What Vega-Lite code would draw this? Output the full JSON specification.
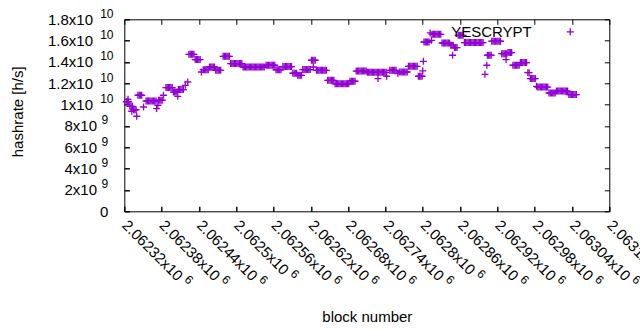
{
"$schema":"https://vega.github.io/schema/vega-lite/v6.json",
"width":485,"height":192,
"autosize":"none",
"padding":{"left":124.3,"top":19.3,"right":30.7,"bottom":118.7},
"background":"white",
"config":{"view":{"stroke":"black","strokeWidth":1},"font":"Liberation Sans",
"axis":{"grid":false,"domain":false,"tickColor":"black","tickSize":-5,"tickWidth":1,"labelColor":"black","labelFont":"Liberation Sans","labelFontSize":15,"titleFont":"Liberation Sans","titleFontSize":15,"titleFontWeight":"normal","titleColor":"black","labelOverlap":false,"labelFlush":false,"labelBound":false}},
"data":{"values":[
{"block":2062323,"hashrate":1.027e10},{"block":2062325,"hashrate":1.027e10},{"block":2062327,"hashrate":1.027e10},
{"block":2062326,"hashrate":1.05e10},
{"block":2062329,"hashrate":9.84e9},{"block":2062331,"hashrate":9.84e9},{"block":2062333,"hashrate":9.84e9},
{"block":2062335,"hashrate":9.52e9},{"block":2062337,"hashrate":9.52e9},{"block":2062339,"hashrate":9.52e9},
{"block":2062332,"hashrate":9.38e9},
{"block":2062340,"hashrate":8.91e9},
{"block":2062342,"hashrate":1.088e10},{"block":2062344,"hashrate":1.088e10},{"block":2062346,"hashrate":1.088e10},{"block":2062348,"hashrate":1.088e10},
{"block":2062351,"hashrate":9.78e9},
{"block":2062355,"hashrate":1.034e10},{"block":2062357,"hashrate":1.034e10},{"block":2062359,"hashrate":1.034e10},{"block":2062361,"hashrate":1.034e10},{"block":2062363,"hashrate":1.034e10},{"block":2062365,"hashrate":1.034e10},{"block":2062367,"hashrate":1.034e10},{"block":2062369,"hashrate":1.034e10},{"block":2062371,"hashrate":1.034e10},
{"block":2062372,"hashrate":9.63e9},
{"block":2062374,"hashrate":9.94e9},
{"block":2062375,"hashrate":1.041e10},{"block":2062377,"hashrate":1.041e10},{"block":2062379,"hashrate":1.041e10},{"block":2062381,"hashrate":1.041e10},
{"block":2062383,"hashrate":1.088e10},
{"block":2062387,"hashrate":1.16e10},{"block":2062389,"hashrate":1.16e10},{"block":2062391,"hashrate":1.16e10},{"block":2062393,"hashrate":1.16e10},{"block":2062395,"hashrate":1.16e10},{"block":2062397,"hashrate":1.16e10},
{"block":2062399,"hashrate":1.118e10},{"block":2062401,"hashrate":1.118e10},{"block":2062403,"hashrate":1.118e10},{"block":2062405,"hashrate":1.118e10},
{"block":2062406,"hashrate":1.078e10},
{"block":2062407,"hashrate":1.141e10},{"block":2062409,"hashrate":1.141e10},{"block":2062411,"hashrate":1.141e10},{"block":2062413,"hashrate":1.141e10},{"block":2062415,"hashrate":1.141e10},
{"block":2062418,"hashrate":1.181e10},
{"block":2062422,"hashrate":1.212e10},
{"block":2062424,"hashrate":1.472e10},{"block":2062426,"hashrate":1.472e10},{"block":2062428,"hashrate":1.472e10},{"block":2062430,"hashrate":1.472e10},{"block":2062432,"hashrate":1.472e10},
{"block":2062434,"hashrate":1.422e10},{"block":2062436,"hashrate":1.422e10},{"block":2062438,"hashrate":1.422e10},{"block":2062440,"hashrate":1.422e10},{"block":2062442,"hashrate":1.422e10},
{"block":2062444,"hashrate":1.306e10},
{"block":2062447,"hashrate":1.328e10},{"block":2062449,"hashrate":1.328e10},{"block":2062451,"hashrate":1.328e10},{"block":2062453,"hashrate":1.328e10},{"block":2062455,"hashrate":1.328e10},
{"block":2062457,"hashrate":1.353e10},{"block":2062459,"hashrate":1.353e10},{"block":2062461,"hashrate":1.353e10},{"block":2062463,"hashrate":1.353e10},{"block":2062465,"hashrate":1.353e10},
{"block":2062467,"hashrate":1.322e10},{"block":2062469,"hashrate":1.322e10},{"block":2062471,"hashrate":1.322e10},{"block":2062473,"hashrate":1.322e10},{"block":2062475,"hashrate":1.322e10},
{"block":2062479,"hashrate":1.453e10},{"block":2062481,"hashrate":1.453e10},{"block":2062483,"hashrate":1.453e10},{"block":2062485,"hashrate":1.453e10},{"block":2062487,"hashrate":1.453e10},{"block":2062489,"hashrate":1.453e10},
{"block":2062491,"hashrate":1.385e10},{"block":2062493,"hashrate":1.385e10},{"block":2062495,"hashrate":1.385e10},{"block":2062497,"hashrate":1.385e10},{"block":2062499,"hashrate":1.385e10},{"block":2062501,"hashrate":1.385e10},{"block":2062503,"hashrate":1.385e10},{"block":2062505,"hashrate":1.385e10},{"block":2062507,"hashrate":1.385e10},{"block":2062509,"hashrate":1.385e10},
{"block":2062511,"hashrate":1.353e10},{"block":2062513,"hashrate":1.353e10},{"block":2062515,"hashrate":1.353e10},{"block":2062517,"hashrate":1.353e10},{"block":2062519,"hashrate":1.353e10},{"block":2062521,"hashrate":1.353e10},{"block":2062523,"hashrate":1.353e10},{"block":2062525,"hashrate":1.353e10},{"block":2062527,"hashrate":1.353e10},{"block":2062529,"hashrate":1.353e10},{"block":2062531,"hashrate":1.353e10},{"block":2062533,"hashrate":1.353e10},{"block":2062535,"hashrate":1.353e10},{"block":2062537,"hashrate":1.353e10},{"block":2062539,"hashrate":1.353e10},{"block":2062541,"hashrate":1.353e10},{"block":2062543,"hashrate":1.353e10},{"block":2062545,"hashrate":1.353e10},
{"block":2062548,"hashrate":1.369e10},{"block":2062550,"hashrate":1.369e10},{"block":2062552,"hashrate":1.369e10},{"block":2062554,"hashrate":1.369e10},{"block":2062556,"hashrate":1.369e10},{"block":2062558,"hashrate":1.369e10},{"block":2062560,"hashrate":1.369e10},{"block":2062562,"hashrate":1.369e10},
{"block":2062564,"hashrate":1.327e10},{"block":2062566,"hashrate":1.327e10},{"block":2062568,"hashrate":1.327e10},{"block":2062570,"hashrate":1.327e10},{"block":2062572,"hashrate":1.327e10},
{"block":2062575,"hashrate":1.357e10},{"block":2062577,"hashrate":1.357e10},{"block":2062579,"hashrate":1.357e10},{"block":2062581,"hashrate":1.357e10},{"block":2062583,"hashrate":1.357e10},{"block":2062585,"hashrate":1.357e10},{"block":2062587,"hashrate":1.357e10},{"block":2062589,"hashrate":1.357e10},
{"block":2062591,"hashrate":1.294e10},{"block":2062593,"hashrate":1.294e10},{"block":2062595,"hashrate":1.294e10},{"block":2062597,"hashrate":1.294e10},
{"block":2062599,"hashrate":1.275e10},{"block":2062601,"hashrate":1.275e10},{"block":2062603,"hashrate":1.275e10},{"block":2062605,"hashrate":1.275e10},
{"block":2062607,"hashrate":1.329e10},{"block":2062609,"hashrate":1.329e10},{"block":2062611,"hashrate":1.329e10},{"block":2062613,"hashrate":1.329e10},{"block":2062615,"hashrate":1.329e10},{"block":2062617,"hashrate":1.329e10},{"block":2062619,"hashrate":1.329e10},
{"block":2062621,"hashrate":1.416e10},{"block":2062623,"hashrate":1.416e10},{"block":2062625,"hashrate":1.416e10},{"block":2062627,"hashrate":1.416e10},
{"block":2062624,"hashrate":1.353e10},
{"block":2062629,"hashrate":1.322e10},{"block":2062631,"hashrate":1.322e10},{"block":2062633,"hashrate":1.322e10},{"block":2062635,"hashrate":1.322e10},{"block":2062637,"hashrate":1.322e10},{"block":2062639,"hashrate":1.322e10},{"block":2062641,"hashrate":1.322e10},{"block":2062643,"hashrate":1.322e10},{"block":2062645,"hashrate":1.322e10},
{"block":2062647,"hashrate":1.228e10},{"block":2062649,"hashrate":1.228e10},{"block":2062651,"hashrate":1.228e10},{"block":2062653,"hashrate":1.228e10},{"block":2062655,"hashrate":1.228e10},{"block":2062657,"hashrate":1.228e10},
{"block":2062659,"hashrate":1.195e10},{"block":2062661,"hashrate":1.195e10},{"block":2062663,"hashrate":1.195e10},{"block":2062665,"hashrate":1.195e10},{"block":2062667,"hashrate":1.195e10},{"block":2062669,"hashrate":1.195e10},{"block":2062671,"hashrate":1.195e10},{"block":2062673,"hashrate":1.195e10},{"block":2062675,"hashrate":1.195e10},{"block":2062677,"hashrate":1.195e10},{"block":2062679,"hashrate":1.195e10},{"block":2062681,"hashrate":1.195e10},
{"block":2062683,"hashrate":1.219e10},{"block":2062685,"hashrate":1.219e10},{"block":2062687,"hashrate":1.219e10},{"block":2062689,"hashrate":1.219e10},{"block":2062691,"hashrate":1.219e10},
{"block":2062693,"hashrate":1.315e10},{"block":2062695,"hashrate":1.315e10},{"block":2062697,"hashrate":1.315e10},{"block":2062699,"hashrate":1.315e10},{"block":2062701,"hashrate":1.315e10},{"block":2062703,"hashrate":1.315e10},{"block":2062705,"hashrate":1.315e10},{"block":2062707,"hashrate":1.315e10},{"block":2062709,"hashrate":1.315e10},
{"block":2062711,"hashrate":1.303e10},{"block":2062713,"hashrate":1.303e10},{"block":2062715,"hashrate":1.303e10},{"block":2062717,"hashrate":1.303e10},{"block":2062719,"hashrate":1.303e10},{"block":2062721,"hashrate":1.303e10},{"block":2062723,"hashrate":1.303e10},{"block":2062725,"hashrate":1.303e10},{"block":2062727,"hashrate":1.303e10},
{"block":2062728,"hashrate":1.244e10},
{"block":2062729,"hashrate":1.303e10},{"block":2062731,"hashrate":1.303e10},{"block":2062733,"hashrate":1.303e10},{"block":2062735,"hashrate":1.303e10},{"block":2062737,"hashrate":1.303e10},{"block":2062739,"hashrate":1.303e10},{"block":2062741,"hashrate":1.303e10},
{"block":2062742,"hashrate":1.266e10},
{"block":2062747,"hashrate":1.322e10},{"block":2062749,"hashrate":1.322e10},{"block":2062751,"hashrate":1.322e10},{"block":2062753,"hashrate":1.322e10},{"block":2062755,"hashrate":1.322e10},{"block":2062757,"hashrate":1.322e10},
{"block":2062760,"hashrate":1.291e10},
{"block":2062763,"hashrate":1.306e10},{"block":2062765,"hashrate":1.306e10},{"block":2062767,"hashrate":1.306e10},{"block":2062769,"hashrate":1.306e10},{"block":2062771,"hashrate":1.306e10},{"block":2062773,"hashrate":1.306e10},{"block":2062775,"hashrate":1.306e10},
{"block":2062777,"hashrate":1.359e10},{"block":2062779,"hashrate":1.359e10},{"block":2062781,"hashrate":1.359e10},{"block":2062783,"hashrate":1.359e10},{"block":2062785,"hashrate":1.359e10},{"block":2062787,"hashrate":1.359e10},{"block":2062789,"hashrate":1.359e10},{"block":2062791,"hashrate":1.359e10},
{"block":2062793,"hashrate":1.266e10},{"block":2062795,"hashrate":1.266e10},{"block":2062797,"hashrate":1.266e10},{"block":2062799,"hashrate":1.266e10},
{"block":2062800,"hashrate":1.317e10},
{"block":2062801,"hashrate":1.406e10},
{"block":2062802,"hashrate":1.587e10},{"block":2062804,"hashrate":1.587e10},{"block":2062806,"hashrate":1.587e10},{"block":2062808,"hashrate":1.587e10},{"block":2062810,"hashrate":1.587e10},
{"block":2062812,"hashrate":1.672e10},
{"block":2062814,"hashrate":1.603e10},
{"block":2062815,"hashrate":1.659e10},{"block":2062817,"hashrate":1.659e10},{"block":2062819,"hashrate":1.659e10},{"block":2062821,"hashrate":1.659e10},{"block":2062823,"hashrate":1.659e10},{"block":2062825,"hashrate":1.659e10},{"block":2062827,"hashrate":1.659e10},{"block":2062829,"hashrate":1.659e10},
{"block":2062831,"hashrate":1.578e10},{"block":2062833,"hashrate":1.578e10},{"block":2062835,"hashrate":1.578e10},{"block":2062837,"hashrate":1.578e10},{"block":2062839,"hashrate":1.578e10},{"block":2062841,"hashrate":1.578e10},{"block":2062843,"hashrate":1.578e10},
{"block":2062845,"hashrate":1.556e10},{"block":2062847,"hashrate":1.556e10},{"block":2062849,"hashrate":1.556e10},
{"block":2062848,"hashrate":1.463e10},
{"block":2062851,"hashrate":1.535e10},{"block":2062853,"hashrate":1.535e10},{"block":2062855,"hashrate":1.535e10},
{"block":2062857,"hashrate":1.65e10},{"block":2062859,"hashrate":1.65e10},{"block":2062861,"hashrate":1.65e10},{"block":2062863,"hashrate":1.65e10},{"block":2062865,"hashrate":1.65e10},
{"block":2062867,"hashrate":1.582e10},{"block":2062869,"hashrate":1.582e10},{"block":2062871,"hashrate":1.582e10},{"block":2062873,"hashrate":1.582e10},{"block":2062875,"hashrate":1.582e10},{"block":2062877,"hashrate":1.582e10},{"block":2062879,"hashrate":1.582e10},{"block":2062881,"hashrate":1.582e10},{"block":2062883,"hashrate":1.582e10},{"block":2062885,"hashrate":1.582e10},{"block":2062887,"hashrate":1.582e10},{"block":2062889,"hashrate":1.582e10},{"block":2062891,"hashrate":1.582e10},{"block":2062893,"hashrate":1.582e10},{"block":2062895,"hashrate":1.582e10},{"block":2062897,"hashrate":1.582e10},
{"block":2062900,"hashrate":1.284e10},
{"block":2062903,"hashrate":1.369e10},
{"block":2062904,"hashrate":1.463e10},{"block":2062906,"hashrate":1.463e10},{"block":2062908,"hashrate":1.463e10},{"block":2062910,"hashrate":1.463e10},
{"block":2062911,"hashrate":1.594e10},{"block":2062913,"hashrate":1.594e10},{"block":2062915,"hashrate":1.594e10},{"block":2062917,"hashrate":1.594e10},{"block":2062919,"hashrate":1.594e10},{"block":2062921,"hashrate":1.594e10},{"block":2062923,"hashrate":1.594e10},{"block":2062925,"hashrate":1.594e10},
{"block":2062927,"hashrate":1.478e10},{"block":2062929,"hashrate":1.478e10},{"block":2062931,"hashrate":1.478e10},{"block":2062933,"hashrate":1.478e10},{"block":2062935,"hashrate":1.478e10},
{"block":2062934,"hashrate":1.422e10},
{"block":2062937,"hashrate":1.488e10},{"block":2062939,"hashrate":1.488e10},{"block":2062941,"hashrate":1.488e10},{"block":2062943,"hashrate":1.488e10},
{"block":2062945,"hashrate":1.369e10},{"block":2062947,"hashrate":1.369e10},{"block":2062949,"hashrate":1.369e10},{"block":2062951,"hashrate":1.369e10},{"block":2062953,"hashrate":1.369e10},{"block":2062955,"hashrate":1.369e10},
{"block":2062957,"hashrate":1.394e10},{"block":2062959,"hashrate":1.394e10},{"block":2062961,"hashrate":1.394e10},{"block":2062963,"hashrate":1.394e10},{"block":2062965,"hashrate":1.394e10},{"block":2062967,"hashrate":1.394e10},
{"block":2062969,"hashrate":1.3e10},{"block":2062971,"hashrate":1.3e10},
{"block":2062973,"hashrate":1.244e10},{"block":2062975,"hashrate":1.244e10},{"block":2062977,"hashrate":1.244e10},{"block":2062979,"hashrate":1.244e10},{"block":2062981,"hashrate":1.244e10},
{"block":2062983,"hashrate":1.172e10},
{"block":2062985,"hashrate":1.165e10},{"block":2062987,"hashrate":1.165e10},{"block":2062989,"hashrate":1.165e10},{"block":2062991,"hashrate":1.165e10},{"block":2062993,"hashrate":1.165e10},{"block":2062995,"hashrate":1.165e10},{"block":2062997,"hashrate":1.165e10},{"block":2062999,"hashrate":1.165e10},{"block":2063001,"hashrate":1.165e10},
{"block":2063003,"hashrate":1.109e10},{"block":2063005,"hashrate":1.109e10},{"block":2063007,"hashrate":1.109e10},{"block":2063009,"hashrate":1.109e10},{"block":2063011,"hashrate":1.109e10},{"block":2063013,"hashrate":1.109e10},
{"block":2063015,"hashrate":1.127e10},{"block":2063017,"hashrate":1.127e10},{"block":2063019,"hashrate":1.127e10},{"block":2063021,"hashrate":1.127e10},{"block":2063023,"hashrate":1.127e10},{"block":2063025,"hashrate":1.127e10},{"block":2063027,"hashrate":1.127e10},{"block":2063029,"hashrate":1.127e10},{"block":2063031,"hashrate":1.127e10},{"block":2063033,"hashrate":1.127e10},
{"block":2063035,"hashrate":1.094e10},{"block":2063037,"hashrate":1.094e10},{"block":2063039,"hashrate":1.094e10},{"block":2063041,"hashrate":1.094e10},{"block":2063043,"hashrate":1.094e10},{"block":2063045,"hashrate":1.094e10},{"block":2063047,"hashrate":1.094e10}
]},
"layer":[
{"mark":{"type":"point","shape":"M-1,0L1,0M0,-1L0,1","filled":false,"size":49,"strokeWidth":1.3,"opacity":1},
"encoding":{
"x":{"field":"block","type":"quantitative","scale":{"domain":[2062320,2063100],"nice":false,"zero":false},
"axis":{"orient":"bottom","values":[2062320,2062380,2062440,2062500,2062560,2062620,2062680,2062740,2062800,2062860,2062920,2062980,2063040,2063100],
"labelExpr":"format(datum.value/1e6,'~g') + 'x10'","labelAngle":45,"labelAlign":"left","labelBaseline":"middle","labelPadding":16,
"title":"block number","titleY":105,"titleBaseline":"middle"}},
"y":{"field":"hashrate","type":"quantitative","scale":{"domain":[0,1.8e10],"nice":false},
"axis":{"orient":"left","values":[0,2e9,4e9,6e9,8e9,1e10,1.2e10,1.4e10,1.6e10,1.8e10],
"labelExpr":"datum.value == 0 ? '' : (datum.value >= 9.99e9 ? format(datum.value/1e10,'~g') : format(datum.value/1e9,'~g')) + 'x10'",
"labelPadding":{"condition":{"test":"datum.value >= 9.99e9","value":36.8},"value":32.8},"labelBaseline":"middle","labelAlign":"right",
"title":"hashrate [h/s]","titleX":-107,"titleY":92,"titleAngle":-90,"titleBaseline":"middle","titleAlign":"center"}},
"color":{"datum":"YESCRYPT","type":"nominal","scale":{"range":["#9400D3"]},
"legend":{"orient":"none","legendX":438.5,"legendY":5,"title":null,"padding":0,"labelAlign":"right","labelOffset":-46,"labelFontSize":15,"labelFont":"Liberation Sans","labelColor":"black","symbolType":"M-1,0L1,0M0,-1L0,1","symbolSize":49,"symbolStrokeWidth":1.3,"symbolFillColor":"transparent"}}
}},
{"mark":{"type":"point","opacity":0},
"encoding":{
"x":{"field":"block","type":"quantitative","scale":{"domain":[2062320,2063100],"nice":false,"zero":false},
"axis":{"orient":"top","values":[2062320,2062380,2062440,2062500,2062560,2062620,2062680,2062740,2062800,2062860,2062920,2062980,2063040,2063100],"labels":false,"title":null}},
"y":{"field":"hashrate","type":"quantitative","scale":{"domain":[0,1.8e10],"nice":false},
"axis":{"orient":"right","values":[0,2e9,4e9,6e9,8e9,1e10,1.2e10,1.4e10,1.6e10,1.8e10],"labels":false,"title":null}}
}},
{"mark":{"type":"point","opacity":0},
"encoding":{
"x":{"field":"block","type":"quantitative","scale":{"domain":[2062320,2063100],"nice":false,"zero":false},
"axis":{"orient":"bottom","values":[2062320,2062380,2062440,2062500,2062560,2062620,2062680,2062740,2062800,2062860,2062920,2062980,2063040,2063100],
"labelExpr":"'6'","labelFontSize":12,"labelAngle":45,"labelAlign":"left","labelBaseline":"middle",
"labelOffset":{"condition":{"test":"datum.value % 100 == 0","value":55.9},"value":61.8},
"labelPadding":{"condition":{"test":"datum.value % 100 == 0","value":64.8},"value":70.7},"title":null}},
"y":{"field":"hashrate","type":"quantitative","scale":{"domain":[0,1.8e10],"nice":false},
"axis":{"orient":"left","values":[0,2e9,4e9,6e9,8e9,1e10,1.2e10,1.4e10,1.6e10,1.8e10],
"labelExpr":"datum.value == 0 ? '0' : (datum.value >= 9.99e9 ? '10' : '9')",
"labelFontSize":{"condition":{"test":"datum.value == 0","value":15},"value":12},
"labelOffset":{"condition":{"test":"datum.value == 0","value":0},"value":-6},
"labelPadding":{"condition":{"test":"datum.value >= 9.99e9","value":16.3},"value":21.5},
"labelAlign":"right","labelBaseline":"middle","title":null}}
}}
],
"resolve":{"axis":{"x":"independent","y":"independent"}}
}
